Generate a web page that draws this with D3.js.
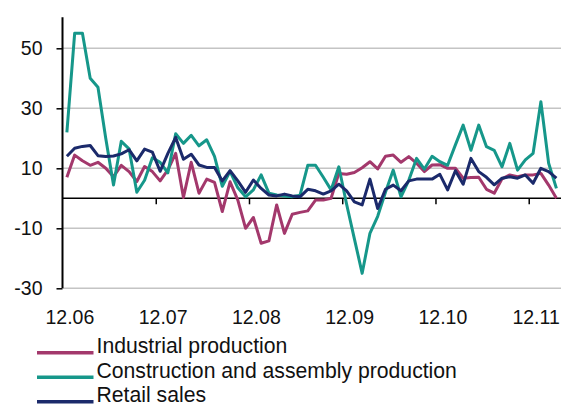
<!DOCTYPE html>
<html>
<head>
<meta charset="utf-8">
<script src="https://cdn.jsdelivr.net/npm/d3@7"></script>
<style>
  body { margin: 0; background: #fff; }
  text { font-family: "Liberation Sans", Arial, sans-serif; }
</style>
</head>
<body>
<svg id="chart"></svg>
<script>
const width = 561;
const height = 412;

// monthly, Dec 2006 .. Mar 2012
const months = d3.timeMonth.range(new Date(2006, 11, 1), new Date(2012, 3, 1));
const xLabels = ['12.06', '12.07', '12.08', '12.09', '12.10', '12.11'];
const yTicks = [50, 30, 10, -10, -30];

const industrial = [7, 14.4, 12.5, 11, 12, 10, 7.2, 11, 8.9, 5.6, 10.6, 8.9, 5.8, 9.5, 15, 0.3,
  12, 1.7, 6.4, 5.3, -4.4, 5.5, -0.6, -10, -6.4, -15, -14.2, -2.2, -11.7, -5.3, -4.7, -4.2,
  -0.6, -0.6, 0, 8.3, 8, 8.6, 10.2, 12.2, 9.8, 14, 14.4, 12, 13.9, 11.7, 8.9, 11.1,
  11.2, 10, 10, 6.7, 6.9, 7, 3, 1.7, 6.5, 7.8, 7.2, 7.8, 7.8, 8.3, 4.4, 0];

const construction = [22, 55, 55, 40, 37, 20, 4.4, 19, 16.5, 2, 6, 13.5, 12, 8.5, 21.5, 18.3,
  21, 17.5, 19.5, 14, 4, 9, 3.5, 0.5, 2.8, 7.8, 1.7, 1.1, 0.8, 0.5, 1, 11,
  11, 7, 2.8, 10.5, -2, -13.5, -25, -11.7, -6, 2, 9.4, 0.5, 6, 13.3, 9.7, 14,
  12.2, 11, 17.8, 24.4, 16, 24.4, 17.2, 16, 10.5, 18.3, 9.4, 12.8, 15, 32.2, 11.7, 3.3];

const retail = [14, 16.7, 17.3, 17.6, 14.2, 13.9, 14.1, 14.8, 16.2, 12.5, 16.4, 15.4, 9, 15, 20.3, 13,
  14.7, 11.1, 10.3, 10.3, 5.8, 9.2, 5.8, 2, 6.1, 3.3, 1.1, 0.8, 1.4, 0.8, 0.5, 3,
  2.5, 1.4, 2.5, 4.7, 2.5, -1.2, -2.2, 6.4, -3.4, 3, 4.4, 2.5, 5.8, 6.4, 6.4, 6.4,
  8, 2.8, 9.2, 4.7, 13.3, 8.9, 7, 4.5, 6.7, 7.2, 6.7, 7.8, 5, 10, 8.9, 6.7];

const seriesNames = ['Industrial production', 'Construction and assembly production', 'Retail sales'];
const seriesColors = ['#a3386c', '#16978a', '#1b2a6b'];
const seriesData = [industrial, construction, retail];

const svg = d3.select('#chart').attr('width', width).attr('height', height);

const x = d3.scaleBand().domain(d3.range(months.length)).range([63, 560.3]).padding(0);
const y = d3.scaleLinear().domain([-30, 60]).range([288.3, 18.3]);
const cx = i => x(i) + x.bandwidth() / 2;

// gridlines
svg.append('g')
  .selectAll('line')
  .data(yTicks)
  .enter().append('line')
  .attr('x1', 63).attr('x2', width)
  .attr('y1', d => y(d)).attr('y2', d => y(d))
  .style('stroke', '#c4c4c4')
  .style('stroke-width', 1.5);

// y axis
const yAxis = svg.append('g')
  .attr('transform', 'translate(62.5,0)')
  .call(d3.axisLeft(y).tickValues(yTicks).tickSize(6).tickPadding(14));
yAxis.select('.domain').attr('d', `M0,${y(60) - 1}V${y(-30)}`).style('stroke', '#000').style('stroke-width', 2);
yAxis.selectAll('.tick line').style('stroke', '#000').style('stroke-width', 1.5);
yAxis.selectAll('.tick text')
  .style('font-size', '19.5px')
  .style('fill', '#111')
  .text(d => d < 0 ? '-' + Math.abs(d) : d);

// x axis at zero
svg.append('line')
  .attr('x1', 63).attr('x2', width)
  .attr('y1', y(0)).attr('y2', y(0))
  .style('stroke', '#000')
  .style('stroke-width', 1.5);

const tickIdx = d3.range(12, months.length, 12);
svg.append('g')
  .selectAll('line')
  .data(tickIdx)
  .enter().append('line')
  .attr('x1', d => x(d)).attr('x2', d => x(d))
  .attr('y1', y(0)).attr('y2', y(0) + 6)
  .style('stroke', '#000')
  .style('stroke-width', 1.5);

svg.append('g')
  .selectAll('text')
  .data(xLabels)
  .enter().append('text')
  .attr('x', (d, i) => cx(i * 12) + 3)
  .attr('y', 324)
  .attr('text-anchor', 'middle')
  .style('font-size', '19.5px')
  .style('fill', '#111')
  .text(d => d);

// lines
const line = d3.line()
  .x((d, i) => cx(i))
  .y(d => y(d));

svg.append('g')
  .selectAll('path')
  .data(seriesData)
  .enter().append('path')
  .attr('d', line)
  .style('fill', 'none')
  .style('stroke', (d, i) => seriesColors[i])
  .style('stroke-width', 3)
  .style('stroke-linejoin', 'round');

// legend
const legend = svg.append('g')
  .selectAll('g')
  .data(seriesNames)
  .enter().append('g')
  .attr('transform', (d, i) => `translate(0,${352.7 + i * 24.5})`);

legend.append('line')
  .attr('x1', 37).attr('x2', 93.5)
  .attr('y1', 0).attr('y2', 0)
  .style('stroke', (d, i) => seriesColors[i])
  .style('stroke-width', 3.5);

legend.append('text')
  .attr('x', 96.5)
  .attr('y', 0.5)
  .style('font-size', '21.2px')
  .style('fill', '#111')
  .text(d => d);
</script>
</body>
</html>
